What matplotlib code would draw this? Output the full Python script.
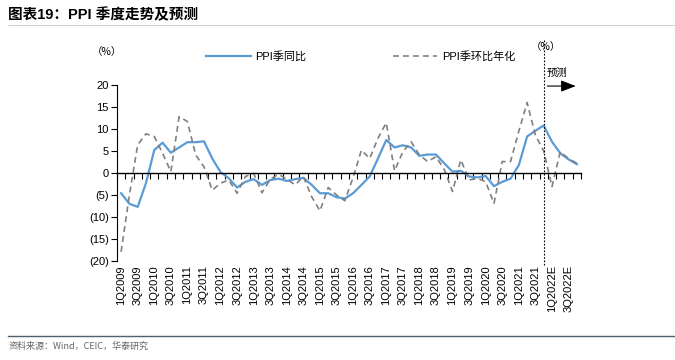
import numpy as np
import matplotlib
matplotlib.use('Agg')
import matplotlib.pyplot as plt
from matplotlib.lines import Line2D
from matplotlib.ticker import FuncFormatter

plt.rcParams['font.family'] = ['Liberation Sans', 'Noto Sans CJK SC', 'DejaVu Sans']
cjk = ['Noto Sans CJK SC', 'DejaVu Sans']

# quarters 1Q2009 .. 4Q2022E
quarters = [f"{q}Q{y}" + ("E" if y == 2022 else "") for y in range(2009, 2023) for q in range(1, 5)]

ppi_yoy = [-4.6, -7.0, -7.7, -2.3, 5.2, 6.9, 4.6, 5.8, 7.0, 7.0, 7.2, 3.3,
           0.2, -1.2, -3.3, -2.0, -1.4, -2.7, -1.6, -1.3, -1.8, -1.4, -1.1, -2.7,
           -4.6, -4.6, -5.5, -5.8, -4.6, -2.7, -0.8, 3.3, 7.5, 5.8, 6.3, 5.8,
           3.9, 4.2, 4.2, 2.2, 0.3, 0.5, -0.8, -1.0, -0.7, -3.0, -2.0, -1.3,
           1.8, 8.3, 9.6, 10.8, 7.1, 4.5, 3.1, 2.0]

ppi_qoq_ann = [-17.9, -5.0, 6.4, 8.9, 8.3, 4.5, 0.3, 12.8, 11.7, 4.1, 1.4, -3.9,
               -2.3, -1.6, -4.6, -0.8, -0.1, -4.5, -1.4, -0.3, -1.4, -2.7, -0.8, -5.4,
               -8.6, -3.3, -5.0, -6.3, -1.0, 5.2, 3.3, 7.9, 11.4, 0.5, 4.8, 7.1,
               4.1, 2.6, 3.7, 0.8, -4.2, 3.0, -1.6, -1.2, -2.0, -6.9, 2.6, 2.6,
               9.5, 16.0, 8.6, 5.0, -3.1, 4.8, 3.3, 2.2]

forecast_start = 51  # 4Q2021

x = np.arange(len(quarters))

fig = plt.figure(figsize=(6.75, 3.6), dpi=100)
ax = fig.add_axes([0.1733, 0.275, 0.6874, 0.4889])

ax.plot(x, ppi_yoy, color='#5b9bd5', lw=1.6, label='PPI季同比')
ax.plot(x, ppi_qoq_ann, color='#808080', lw=1.2, dashes=(3.5, 2.5), label='PPI季环比年化')

ax.set_xlim(-0.5, len(quarters) - 0.5)
ax.set_ylim(-20, 20)
ax.set_yticks(np.arange(-20, 21, 5))
ax.yaxis.set_major_formatter(FuncFormatter(lambda v, p: f"({abs(int(v))})" if v < 0 else f"{int(v)}"))
ax.tick_params(axis='y', labelsize=8, length=4, width=0.8, direction='out', pad=2)

for s in ['top', 'right']:
    ax.spines[s].set_visible(False)
ax.spines['bottom'].set_position(('data', 0))
ax.spines['bottom'].set_linewidth(1.0)
ax.spines['left'].set_linewidth(0.8)
ax.set_xticks(np.arange(len(quarters) + 1) - 0.5)
ax.tick_params(axis='x', length=4, width=0.8, direction='out', labelbottom=False)

sec = ax.secondary_xaxis('bottom')
sec.set_xticks(x[::2])
sec.set_xticklabels(quarters[::2], rotation=90, fontsize=8)
sec.tick_params(length=0, pad=3)
sec.spines['bottom'].set_visible(False)

# forecast marker
ax.axvline(forecast_start, ymin=-0.02, ymax=1.255, color='black', lw=0.8,
           ls=(0, (1.5, 1.5)), clip_on=False)
ax.annotate('', xy=(55.2, 0.994), xytext=(51.1, 0.994),
            xycoords=('data', 'axes fraction'),
            arrowprops=dict(arrowstyle='-|>,head_length=0.9,head_width=0.35',
                            color='black', lw=0.8), annotation_clip=False)
ax.text(51.3, 1.068, '预测', transform=ax.get_xaxis_transform(), fontsize=7.5,
        ha='left', va='center', family=cjk)
ax.text(51.3, 1.215, '（%）', transform=ax.get_xaxis_transform(), fontsize=7.5,
        ha='center', va='center', family=cjk)
fig.text(0.159, 0.856, '（%）', fontsize=7.5, ha='center', va='center', family=cjk)

ax.legend(loc='center', bbox_to_anchor=(0.525, 1.16), ncol=2, frameon=False,
          fontsize=8, handlelength=4.0, columnspacing=7.8, handletextpad=0.4)

fig.text(0.012, 0.958, '图表19：PPI 季度走势及预测', fontsize=10.5, fontweight='bold',
         ha='left', va='center')
fig.add_artist(Line2D([0.012, 1.0], [0.93, 0.93], color='#c8c8c8', lw=0.6))
fig.add_artist(Line2D([0.012, 1.0], [0.067, 0.067], color='#4f6070', lw=1.0))
fig.text(0.012, 0.038, '资料来源：Wind，CEIC，华泰研究', fontsize=6.5, color='#666666',
         ha='left', va='center', family=cjk)

fig.savefig('out.png', dpi=100)
